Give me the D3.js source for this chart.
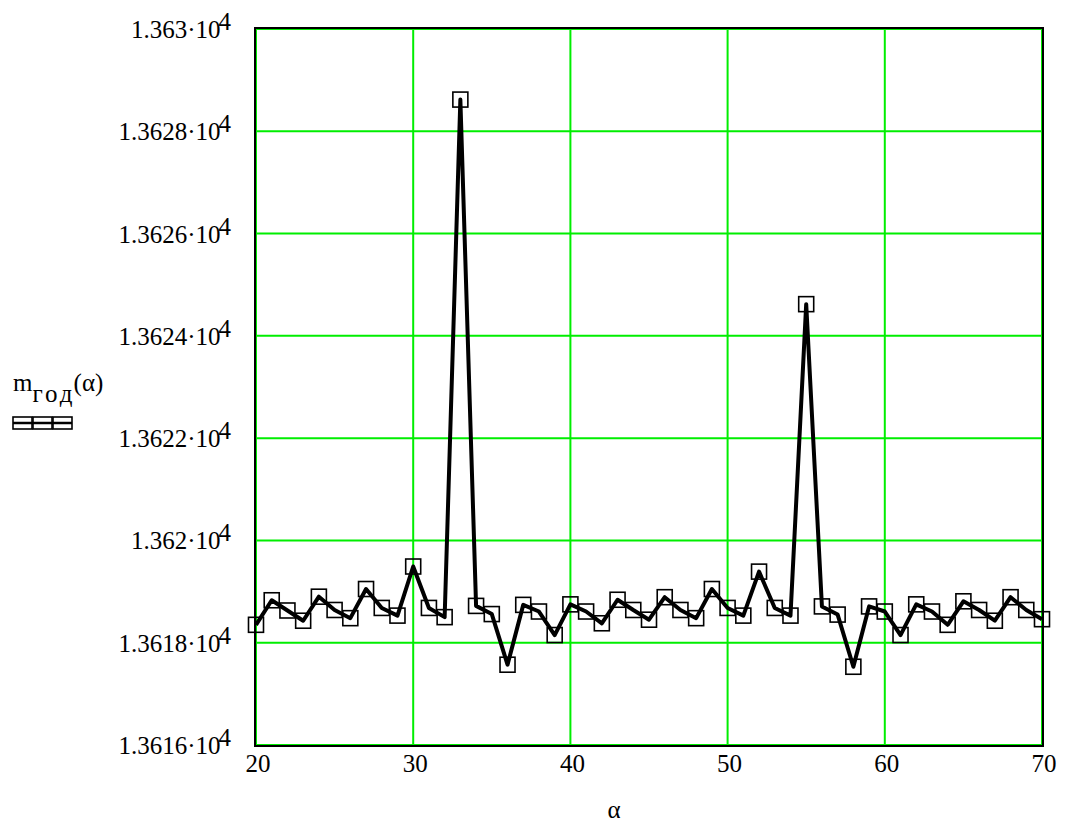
<!DOCTYPE html>
<html>
<head>
<meta charset="utf-8">
<script src="https://cdn.jsdelivr.net/npm/d3@7"></script>
<style>
  body { margin: 0; background: #fff; }
  svg text { font-family: "Times New Roman", Times, "Liberation Serif", "DejaVu Serif", serif; }
</style>
</head>
<body>
<svg id="chart" width="1065" height="823"></svg>
<script>
const alpha = d3.range(20, 71);
const mGod = [
  13618.35, 13618.83, 13618.63, 13618.43, 13618.90, 13618.64, 13618.48, 13619.05, 13618.68, 13618.53,
  13619.49, 13618.68, 13618.50, 13628.62, 13618.72, 13618.56, 13617.57, 13618.74, 13618.61, 13618.15,
  13618.75, 13618.61, 13618.38, 13618.84, 13618.64, 13618.45, 13618.89, 13618.64, 13618.48, 13619.05,
  13618.68, 13618.53, 13619.39, 13618.68, 13618.53, 13624.62, 13618.71, 13618.55, 13617.53, 13618.71,
  13618.61, 13618.15, 13618.75, 13618.61, 13618.35, 13618.81, 13618.64, 13618.43, 13618.89, 13618.64,
  13618.46
];
const xTicks = [20, 30, 40, 50, 60, 70];
const yTicks = [13616, 13618, 13620, 13622, 13624, 13626, 13628, 13630];
const yTickLabels = ["1.3616", "1.3618", "1.362", "1.3622", "1.3624", "1.3626", "1.3628", "1.363"];

const svg = d3.select("#chart")
  .attr("font-size", 25);
const x = d3.scaleLinear().domain([20, 70]).range([256, 1042]);
const y = d3.scaleLinear().domain([13616, 13630]).range([745, 29]);

// grid
svg.append("g").selectAll("line")
  .data(xTicks)
  .join("line")
  .attr("x1", d => x(d)).attr("x2", d => x(d))
  .attr("y1", y(13616)).attr("y2", y(13630))
  .attr("stroke", "#00ee00").attr("stroke-width", 2);
svg.append("g").selectAll("line")
  .data(yTicks)
  .join("line")
  .attr("x1", x(20)).attr("x2", x(70))
  .attr("y1", d => y(d)).attr("y2", d => y(d))
  .attr("stroke", "#00ee00").attr("stroke-width", 2);

// frame
svg.append("rect")
  .attr("x", x(20) - 1).attr("y", y(13630) - 1)
  .attr("width", x(70) - x(20) + 2).attr("height", y(13616) - y(13630) + 2)
  .attr("fill", "none").attr("stroke", "#000").attr("stroke-width", 2);

// trace
const pts = alpha.map((a, i) => [a, mGod[i]]);
svg.append("path")
  .datum(pts)
  .attr("fill", "none")
  .attr("stroke", "#000")
  .attr("stroke-width", 4)
  .attr("stroke-linejoin", "round")
  .attr("d", d3.line().x(d => x(d[0])).y(d => y(d[1])));

svg.append("g").selectAll("rect")
  .data(pts)
  .join("rect")
  .attr("x", d => x(d[0]) - 7.5).attr("y", d => y(d[1]) - 7.5)
  .attr("width", 15).attr("height", 15)
  .attr("fill", "none").attr("stroke", "#000").attr("stroke-width", 1.6);

// y tick labels
const yl = svg.append("g").selectAll("text")
  .data(yTicks)
  .join("text")
  .attr("x", 231)
  .attr("y", d => y(d) + 9)
  .attr("text-anchor", "end");
yl.append("tspan").text((d, i) => yTickLabels[i] + "·10");
yl.append("tspan").attr("dx", -2).attr("dy", -8).text("4");

// x tick labels
svg.append("g").selectAll("text")
  .data(xTicks)
  .join("text")
  .attr("x", d => x(d) + 2)
  .attr("y", 772)
  .attr("text-anchor", "middle")
  .text(d => d);

// axis titles
svg.append("text").attr("x", 614).attr("y", 818).attr("text-anchor", "middle").text("α");

const yt = svg.append("text").attr("x", 13).attr("y", 391);
yt.append("tspan").text("m");
yt.append("tspan").attr("dy", 11).attr("letter-spacing", 3).text("год");
yt.append("tspan").attr("dy", -11).attr("dx", -2).text("(α)");

// legend symbol
const leg = svg.append("g");
leg.selectAll("rect")
  .data([0, 1, 2])
  .join("rect")
  .attr("x", d => 13 + d * 20).attr("y", 417)
  .attr("width", 19).attr("height", 12)
  .attr("fill", "none").attr("stroke", "#000").attr("stroke-width", 1.6);
leg.append("line")
  .attr("x1", 13).attr("x2", 72).attr("y1", 423).attr("y2", 423)
  .attr("stroke", "#000").attr("stroke-width", 2.5);
</script>
</body>
</html>
